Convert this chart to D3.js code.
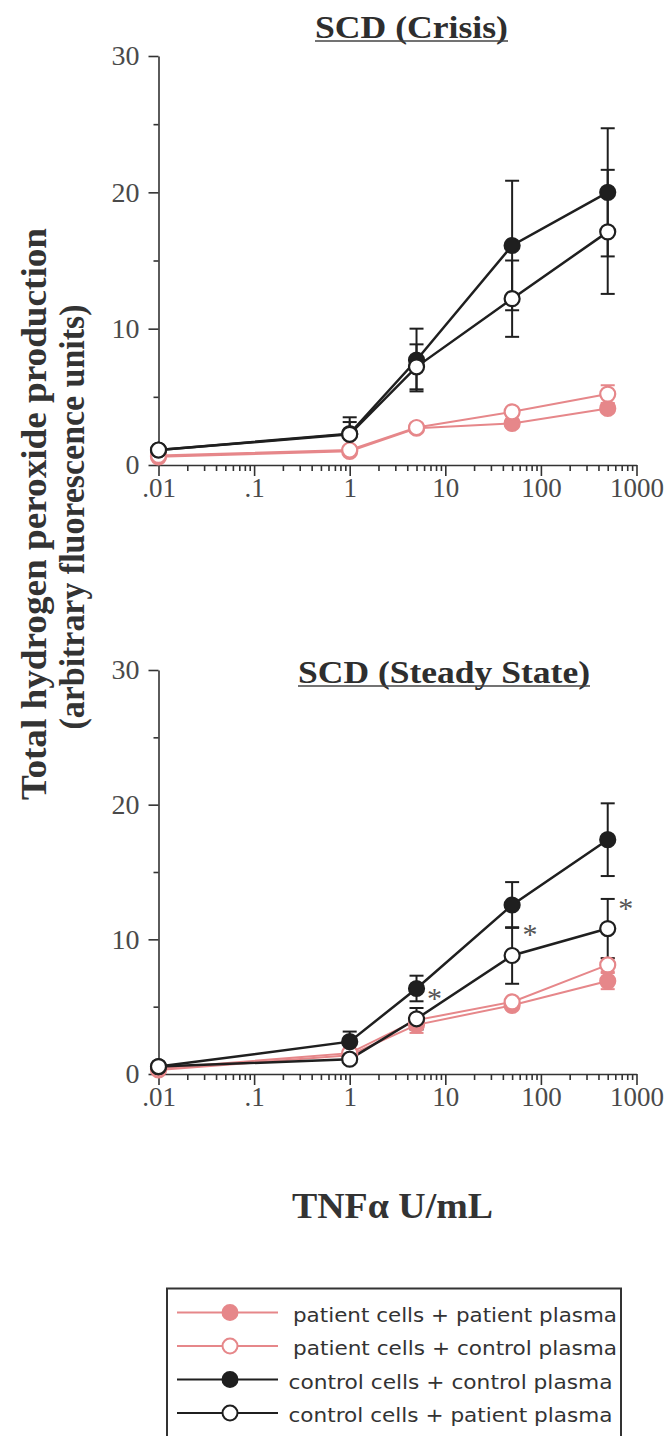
<!DOCTYPE html>
<meta charset="utf-8">
<head>
<style>
body { margin: 0; background: #fff; }
svg { display: block; }
.tick text { font-family: "Liberation Serif", "Times New Roman", Times, "Nimbus Roman", Tinos, serif; fill: #4a4a4a; }
.axis path, .axis line { stroke: #333; stroke-width: 1.6; }
</style>
</head>
<body>
<script src="https://cdn.jsdelivr.net/npm/d3@7"></script>
<svg id="chart" width="669" height="1436"></svg>
<script>

// doses of TNFa (U/mL)
var doses = [0.01, 1, 5, 50, 500];
var xTickVals = [0.01, 0.1, 1, 10, 100, 1000];
var xTickLabels = [".01", ".1", "1", "10", "100", "1000"];
var yTickVals = [0, 10, 20, 30];
var yMinorVals = [5, 15, 25];

var seriesLabels = [
  "patient cells + patient plasma",
  "patient cells + control plasma",
  "control cells + control plasma",
  "control cells + patient plasma"
];

// SCD (Crisis)
var crisisPatPat = [0.6, 1.0, 2.7, 3.05, 4.15];
var crisisPatCtl = [0.7, 1.1, 2.75, 3.9, 5.2];
var crisisCtlCtl = [1.1, 2.3, 7.7, 16.1, 20.0];
var crisisCtlPat = [1.1, 2.25, 7.2, 12.2, 17.1];
var crisisErrPatPat = [0.1, 0.2, 0.3, 0.3, 0.3];
var crisisErrPatCtl = [0.1, 0.2, 0.3, 0.3, 0.65];
var crisisErrCtlCtl = [0.2, 1.2, 2.3, 4.75, 4.7];
var crisisErrCtlPat = [0.2, 0.9, 1.65, 2.8, 4.55];

// SCD (Steady State)
var steadyPatPat = [0.3, 1.4, 3.65, 5.1, 6.9];
var steadyPatCtl = [0.4, 1.55, 4.0, 5.35, 8.1];
var steadyCtlCtl = [0.55, 2.4, 6.35, 12.55, 17.4];
var steadyCtlPat = [0.55, 1.1, 4.1, 8.8, 10.8];
var steadyErrPatPat = [0.1, 0.2, 0.6, 0.3, 0.6];
var steadyErrPatCtl = [0.1, 0.2, 0.4, 0.3, 0.5];
var steadyErrCtlCtl = [0.1, 0.75, 0.95, 1.7, 2.7];
var steadyErrCtlPat = [0.1, 0.2, 0.8, 2.1, 2.2];
// doses where control cells + patient plasma differs (*)
var steadySig = [5, 50, 500];

var pink = "#e6878a",
    dark = "#1f1f1f";
var styles = [
  {color: pink, filled: true},
  {color: pink, filled: false},
  {color: dark, filled: true},
  {color: dark, filled: false}
];

var svg = d3.select("#chart");
var serif = "'Liberation Serif', 'Times New Roman', Times, 'Nimbus Roman', Tinos, serif";

var x = d3.scaleLog().domain([0.01, 1000]).range([158.5, 636.5]);

function panel(yRange, values, errs, title, tx, tBase, tLen, sig) {
  var y = d3.scaleLinear().domain([0, 30]).range(yRange);
  var g = svg.append("g");

  // y axis
  g.append("g").attr("class", "axis")
      .attr("transform", "translate(" + x.range()[0] + ",0)")
      .call(d3.axisLeft(y).tickValues(yTickVals).tickSize(10).tickSizeOuter(0).tickPadding(9))
      .selectAll("text").style("font-size", "28px");
  g.append("g").attr("class", "axis")
      .attr("transform", "translate(" + x.range()[0] + ",0)")
      .call(d3.axisLeft(y).tickValues(yMinorVals).tickSize(5).tickFormat(""))
      .select(".domain").remove();

  // x axis
  g.append("g").attr("class", "axis")
      .attr("transform", "translate(0," + y(0) + ")")
      .call(d3.axisBottom(x).tickValues(xTickVals).tickSize(11).tickSizeOuter(0).tickPadding(2)
        .tickFormat(function(d, i) { return xTickLabels[i]; }))
      .selectAll("text").style("font-size", "27px");
  var minor = x.ticks().filter(function(d) {
    return xTickVals.every(function(v) { return Math.abs(v - d) / v > 1e-6; });
  });
  g.append("g").attr("class", "axis")
      .attr("transform", "translate(0," + y(0) + ")")
      .call(d3.axisBottom(x).tickValues(minor).tickSize(6).tickFormat(""))
      .select(".domain").remove();

  // title
  g.append("text")
      .attr("x", tx).attr("y", tBase)
      .attr("text-anchor", "middle")
      .attr("textLength", tLen).attr("lengthAdjust", "spacingAndGlyphs")
      .style("font-family", serif).style("font-weight", "bold")
      .style("font-size", "31px").style("fill", "#2e2e2e")
      .text(title);
  g.append("line")
      .attr("x1", tx - tLen / 2).attr("x2", tx + tLen / 2)
      .attr("y1", tBase + 3).attr("y2", tBase + 3)
      .attr("stroke", "#444").attr("stroke-width", 1.6);

  var line = d3.line()
      .x(function(d, i) { return x(doses[i]); })
      .y(function(d) { return y(d); });

  // error bars
  values.forEach(function(vals, s) {
    var eg = g.append("g").attr("stroke", styles[s].color).attr("stroke-width", 2);
    vals.forEach(function(v, i) {
      var e = errs[s][i], cx = x(doses[i]);
      eg.append("line").attr("x1", cx).attr("x2", cx).attr("y1", y(v - e)).attr("y2", y(v + e));
      [v - e, v + e].forEach(function(c) {
        eg.append("line").attr("x1", cx - 7).attr("x2", cx + 7).attr("y1", y(c)).attr("y2", y(c));
      });
    });
  });

  // lines
  values.forEach(function(vals, s) {
    g.append("path")
        .attr("d", line(vals))
        .attr("fill", "none")
        .attr("stroke", styles[s].color)
        .attr("stroke-width", s < 2 ? 2 : 2.5);
  });

  // markers
  values.forEach(function(vals, s) {
    g.selectAll(null).data(vals).enter().append("circle")
        .attr("cx", function(d, i) { return x(doses[i]); })
        .attr("cy", function(d) { return y(d); })
        .attr("r", 7.5)
        .attr("fill", styles[s].filled ? styles[s].color : "#fff")
        .attr("stroke", styles[s].color)
        .attr("stroke-width", 2.2);
  });

  // significance marks
  if (sig) {
    var ref = values[3];
    g.selectAll(null).data(sig).enter().append("text")
        .attr("x", function(d) { return x(d) + 18; })
        .attr("y", function(d) { return y(ref[doses.indexOf(d)]) - 11; })
        .attr("text-anchor", "middle")
        .style("font-family", serif).style("font-size", "30px").style("fill", "#555")
        .text("*");
  }
}

panel([465, 56],
  [crisisPatPat, crisisPatCtl, crisisCtlCtl, crisisCtlPat],
  [crisisErrPatPat, crisisErrPatCtl, crisisErrCtlCtl, crisisErrCtlPat],
  "SCD (Crisis)", 411.5, 38, 193, null);

panel([1074, 670],
  [steadyPatPat, steadyPatCtl, steadyCtlCtl, steadyCtlPat],
  [steadyErrPatPat, steadyErrPatCtl, steadyErrCtlCtl, steadyErrCtlPat],
  "SCD (Steady State)", 444, 683, 292, steadySig);

// y axis label
var yl = svg.append("g")
    .style("font-family", serif).style("font-weight", "bold")
    .style("font-size", "35px").style("fill", "#333");
yl.append("text")
    .attr("transform", "translate(46,514) rotate(-90)")
    .attr("text-anchor", "middle")
    .attr("textLength", 572).attr("lengthAdjust", "spacingAndGlyphs")
    .text("Total hydrogen peroxide production");
yl.append("text")
    .attr("transform", "translate(84,517) rotate(-90)")
    .attr("text-anchor", "middle")
    .attr("textLength", 425).attr("lengthAdjust", "spacingAndGlyphs")
    .text("(arbitrary fluorescence units)");

// x axis label
svg.append("text")
    .attr("x", 392.5).attr("y", 1218)
    .attr("text-anchor", "middle")
    .attr("textLength", 201).attr("lengthAdjust", "spacingAndGlyphs")
    .style("font-family", serif).style("font-weight", "bold")
    .style("font-size", "36px").style("fill", "#333")
    .text("TNF\u03b1 U/mL");

// legend
var legend = svg.append("g");
legend.append("rect")
    .attr("x", 167).attr("y", 1288.5)
    .attr("width", 454).attr("height", 200)
    .attr("fill", "none").attr("stroke", "#333").attr("stroke-width", 2);

var rows = legend.selectAll(".row")
    .data(seriesLabels)
    .enter().append("g")
      .attr("class", "row")
      .attr("transform", function(d, i) { return "translate(0," + (1312.5 + i * 33.5) + ")"; });

rows.append("line")
    .attr("x1", 177).attr("x2", 278)
    .attr("stroke", function(d, i) { return styles[i].color; })
    .attr("stroke-width", 2);
rows.append("circle")
    .attr("cx", 230).attr("r", 7.5)
    .attr("fill", function(d, i) { return styles[i].filled ? styles[i].color : "#fff"; })
    .attr("stroke", function(d, i) { return styles[i].color; })
    .attr("stroke-width", 2);
rows.append("text")
    .attr("x", function(d, i) { return i < 2 ? 293 : 288.5; })
    .attr("y", 9)
    .attr("textLength", 324).attr("lengthAdjust", "spacingAndGlyphs")
    .style("font-family", "'DejaVu Sans', sans-serif")
    .style("font-size", "20px").style("fill", "#333")
    .text(function(d) { return d; });

</script>
</body>
</html>
